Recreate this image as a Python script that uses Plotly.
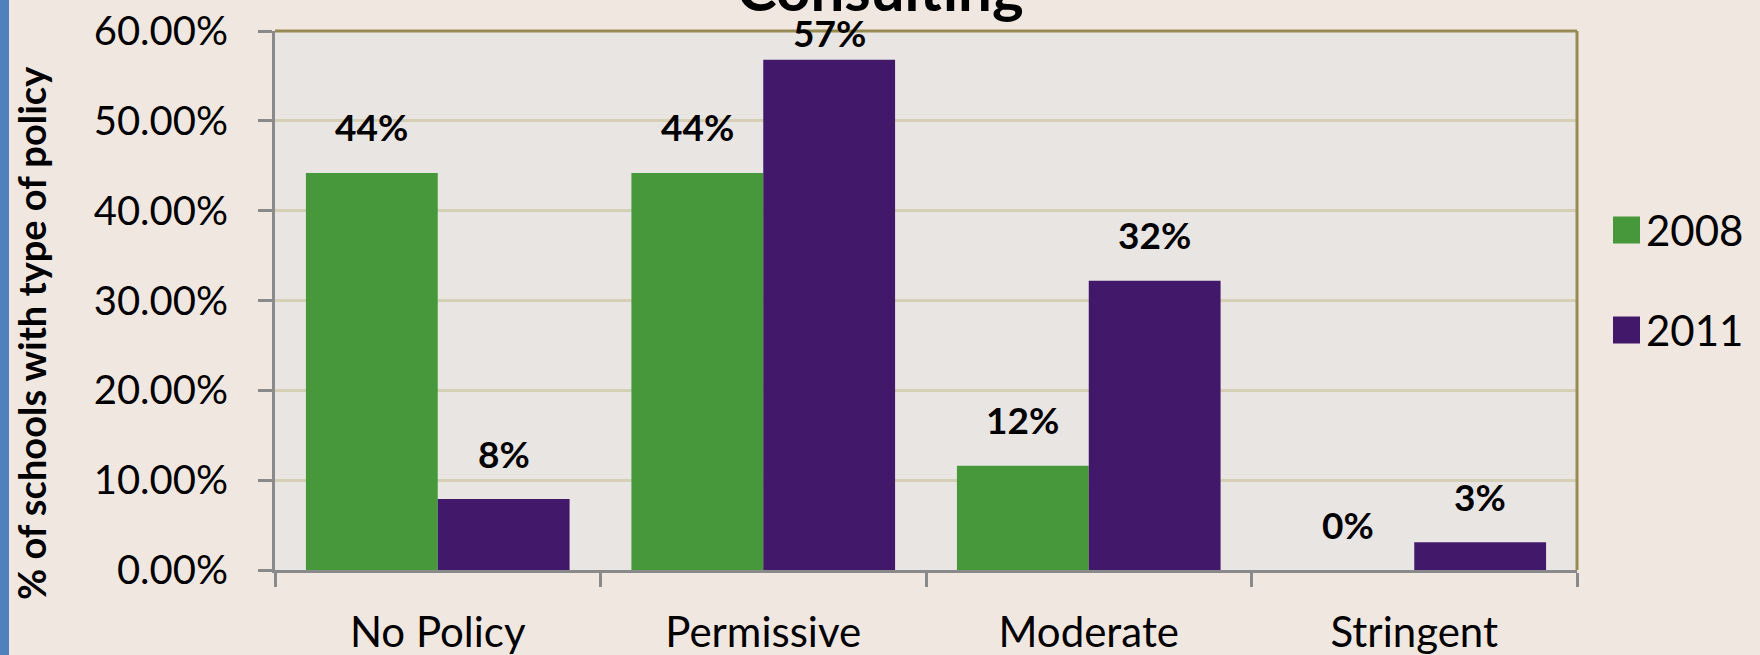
import plotly.graph_objects as go

# ---------------- data ----------------
categories = ["No Policy", "Permissive", "Moderate", "Stringent"]
series_names = ["2008", "2011"]
values_2008 = [0.442, 0.442, 0.116, 0.0]
values_2011 = [0.079, 0.568, 0.322, 0.031]
y_tick_vals = [0.0, 0.1, 0.2, 0.3, 0.4, 0.5, 0.6]
title_text = "Consulting"
y_title_text = "% of schools with type of policy"

# ---------------- style ----------------
W, H = 1760, 655
M_L, M_R, M_T, M_B = 275, 183, 31, 85
PLOT_W = W - M_L - M_R
PLOT_H = H - M_T - M_B
Y_MAX = 0.6
BARGAP = 0.19
colors = ["#46983A", "#42186B"]
FONT = "Lato, 'Open Sans', sans-serif"
PAPER_BG = "#F0E7E1"
PLOT_BG = "#E9E5E3"
AXIS_GRAY = "#8A8A8A"
OLIVE = "#968B55"
GRID = "#D5CFB6"

series_values = [values_2008, values_2011]

fig = go.Figure()
for name, vals, col in zip(series_names, series_values, colors):
    fig.add_trace(go.Bar(x=categories, y=vals, name=name, marker_color=col,
                         marker_line_width=0, showlegend=False))

# ---------------- data labels ----------------
cat_w = PLOT_W / len(categories)
bar_w = cat_w * (1 - BARGAP) / len(series_names)
px_per_unit = PLOT_H / Y_MAX
LABEL_OFF = 46
LABEL_MIN_CENTER = 32  # labels kept inside chart area (px from top)
annotations = []
for si, vals in enumerate(series_values):
    xshift = (si - (len(series_names) - 1) / 2) * bar_w
    for cat, v in zip(categories, vals):
        bar_top = M_T + (Y_MAX - v) * px_per_unit
        center = max(bar_top - LABEL_OFF, LABEL_MIN_CENTER)
        annotations.append(dict(
            x=cat, y=v, xref="x", yref="y", text=f"{round(v * 100)}%",
            showarrow=False, xshift=xshift, yshift=bar_top - center,
            yanchor="middle", xanchor="center",
            font=dict(family=FONT, size=37, color="black", weight="bold")))

def px_x(px):
    return (px - M_L) / PLOT_W

def px_y(py):
    return (H - M_B - py) / PLOT_H

# title (cut off at top)
annotations.append(dict(
    text=f"<b>{title_text}</b>", xref="paper", yref="paper",
    x=px_x(880), y=1, yanchor="bottom", xanchor="center", yshift=5,
    showarrow=False, font=dict(family=FONT, size=60, color="black")))

# y axis title
annotations.append(dict(
    text=f"<b>{y_title_text}</b>", xref="paper", yref="paper",
    x=px_x(31), y=px_y(333), xanchor="center", yanchor="middle",
    textangle=-90, showarrow=False,
    font=dict(family=FONT, size=38, color="black")))

# legend (manual, large squares)
shapes = []
leg_sq_x0, leg_sq_size, leg_text_x = 1613, 27, 1644
leg_row_y = [230, 330]
for name, col, cy in zip(series_names, colors, leg_row_y):
    shapes.append(dict(type="rect", xref="paper", yref="paper",
                       x0=px_x(leg_sq_x0), x1=px_x(leg_sq_x0 + leg_sq_size),
                       y0=px_y(cy + leg_sq_size / 2), y1=px_y(cy - leg_sq_size / 2),
                       fillcolor=col, line_width=0))
    annotations.append(dict(text=name, xref="paper", yref="paper",
                            x=px_x(leg_text_x), y=px_y(cy), xanchor="left",
                            yanchor="middle", showarrow=False,
                            font=dict(family=FONT, size=42, color="black")))

# left blue strip
shapes.append(dict(type="rect", xref="paper", yref="paper",
                   x0=px_x(0), x1=px_x(9), y0=px_y(H + 5), y1=px_y(-5),
                   fillcolor="#4F81BD", line_width=0, layer="below"))
# top & right olive border
shapes.append(dict(type="line", xref="paper", yref="paper", x0=0, x1=1, y0=1, y1=1,
                   line=dict(color=OLIVE, width=3)))
shapes.append(dict(type="line", xref="paper", yref="paper", x0=1, x1=1, y0=0, y1=1,
                   line=dict(color=OLIVE, width=3)))

fig.update_layout(
    width=W, height=H, autosize=False,
    margin=dict(l=M_L, r=M_R, t=M_T, b=M_B, pad=0),
    paper_bgcolor=PAPER_BG, plot_bgcolor=PLOT_BG,
    barmode="group", bargap=BARGAP, bargroupgap=0,
    showlegend=False,
    annotations=annotations, shapes=shapes,
    font=dict(family=FONT, color="black"),
)
fig.update_yaxes(range=[0, Y_MAX], tickvals=y_tick_vals, tickformat=".2%",
                 showgrid=True, gridcolor=GRID, gridwidth=2.5,
                 showline=True, linecolor=AXIS_GRAY, linewidth=3,
                 ticks="outside", ticklen=14, tickwidth=3, tickcolor=AXIS_GRAY,
                 ticklabelstandoff=22, zeroline=False, automargin=False,
                 tickfont=dict(family=FONT, size=40, color="black"))
fig.update_xaxes(showline=True, linecolor=AXIS_GRAY, linewidth=3,
                 ticks="outside", ticklen=14, tickwidth=3, tickcolor=AXIS_GRAY,
                 tickson="boundaries", showgrid=False, ticklabelstandoff=24,
                 automargin=False,
                 tickfont=dict(family=FONT, size=42, color="black"))

fig.write_html(
    "out.html",
    config={"displayModeBar": False},
    post_script="document.body.style.margin='0';"
                "document.body.style.overflow='hidden';"
                f"document.body.style.background='{PAPER_BG}';",
)
